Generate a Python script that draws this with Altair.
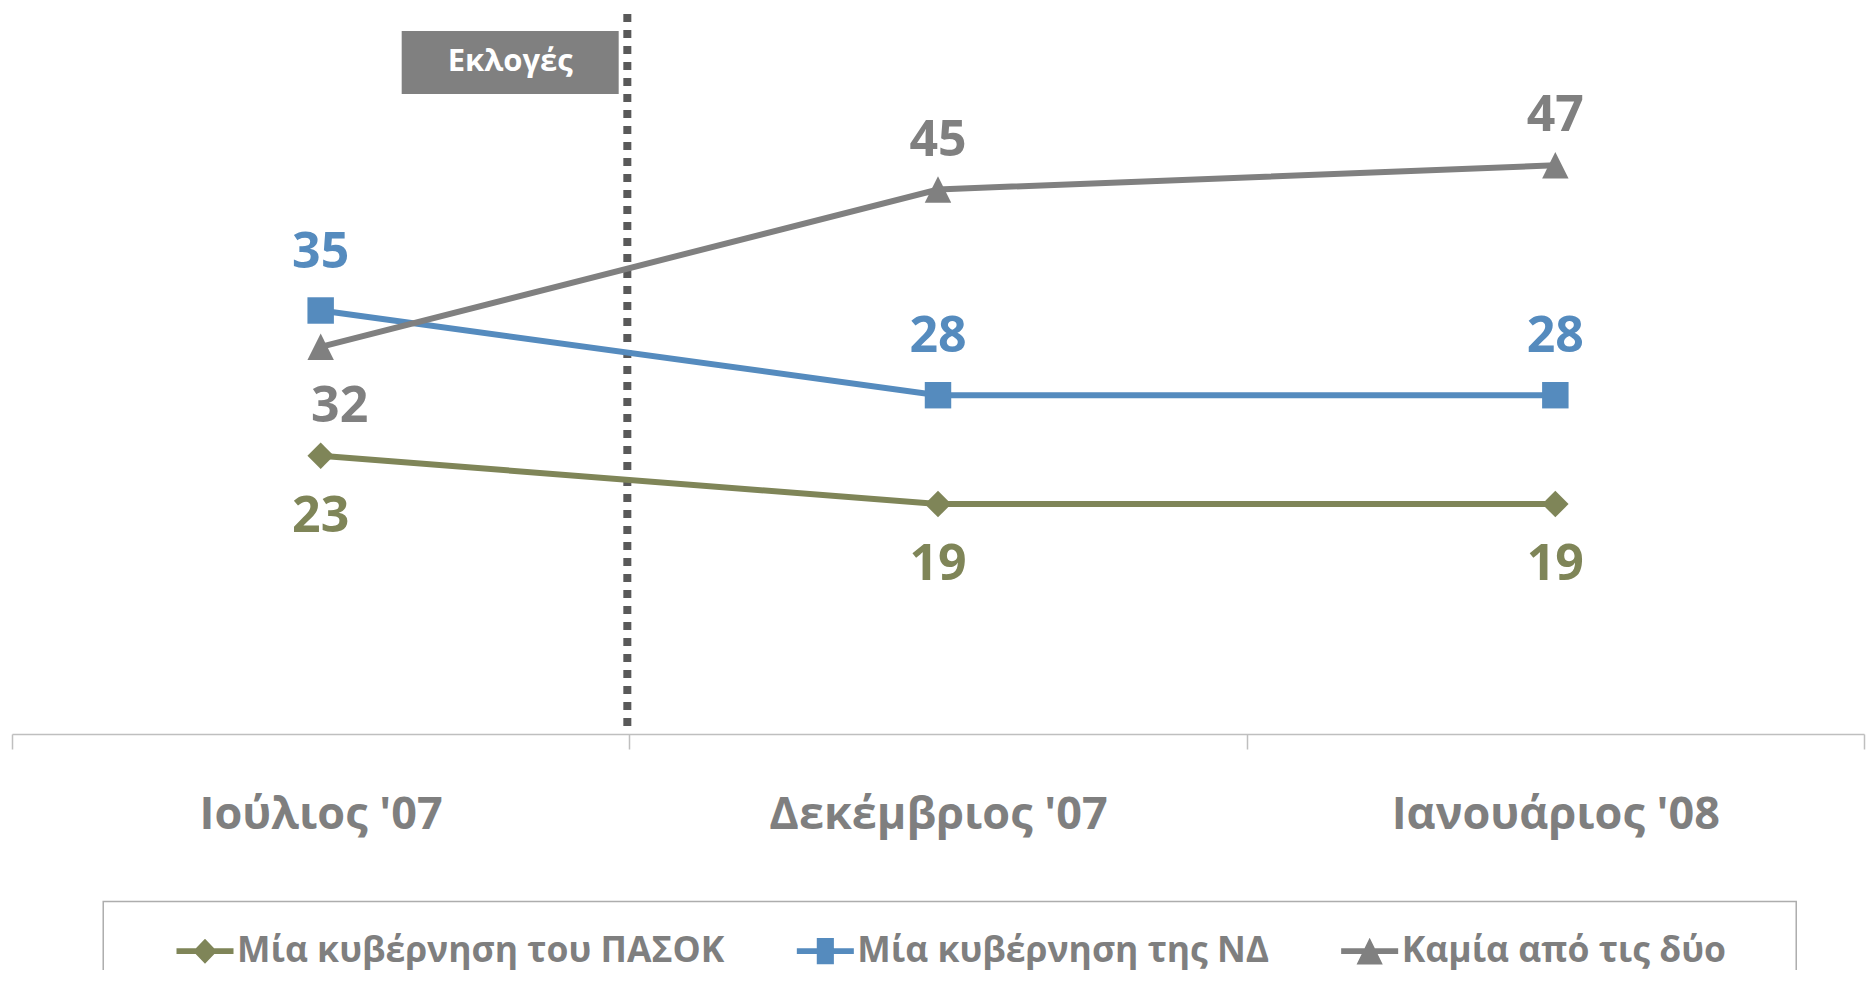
import altair as alt
import pandas as pd

# ---- data ----
months = ["Ιούλιος '07", "Δεκέμβριος '07", "Ιανουάριος '08"]
series = ["Μία κυβέρνηση του ΠΑΣΟΚ", "Μία κυβέρνηση της ΝΔ", "Καμία από τις δύο"]
pasok = [23, 19, 19]
nd = [35, 28, 28]
neither = [32, 45, 47]
election_month = "Δεκέμβριος '07"   # elections took place just before this survey
election_label = "Εκλογές"

colors = ["#7F8558", "#558BBE", "#808080"]
plot_shapes = ["diamond", "square", "M0,-1L1,1L-1,1Z"]
bar = "M-1,-0.1L1,-0.1L1,0.1L-1,0.1Z "
legend_shapes = [
    bar + "M0,-0.44L0.42,0L0,0.44L-0.42,0Z",
    bar + "M-0.3,-0.46L0.3,-0.46L0.3,0.46L-0.3,0.46Z",
    bar + "M0,-0.47L0.46,0.47L-0.46,0.47Z",
]

rows = []
for s, vals in zip(series, [pasok, nd, neither]):
    for m, v in zip(months, vals):
        rows.append({"month": m, "series": s, "value": v})
df = pd.DataFrame(rows)
# annotation placement (in y-axis units)
anno = pd.DataFrame({"month": [months[0]], "label": [election_label], "value": [55.5]})
elec = pd.DataFrame({"month": [election_month], "top": [59.5], "bottom": [0.4]})
# legend row sits below the axis (in y-axis units), one entry under each month band
legend_df = pd.DataFrame({"month": months, "series": series, "value": [-17.95] * 3})
legend_box = pd.DataFrame({"month": [months[1]], "value": [-17.9]})

FONT = "Open Sans"
W, H = 1852, 726
GRAY_TXT = "#7F7F7F"

xscale = alt.Scale(domain=months, paddingInner=0, paddingOuter=0)
yscale = alt.Scale(domain=[0, 60])
cscale = alt.Scale(domain=series, range=colors)

x_axis = alt.Axis(
    title=None, labelFont=FONT, labelFontSize=45, labelFontWeight="bold",
    labelColor=GRAY_TXT, labelAngle=0, labelBaseline="alphabetic",
    labelPadding=79, tickBand="extent", tickSize=15, tickColor="#BFBFBF",
    tickWidth=1.5, domainColor="#BFBFBF", domainWidth=1.5, grid=False,
    labelLimit=1000,
)

X = alt.X("month:N", sort=months, scale=xscale, axis=x_axis)
Y = alt.Y("value:Q", scale=yscale, axis=None)
C = alt.Color("series:N", scale=cscale, legend=None)


def Xb(band=0.5):
    return alt.X("month:N", sort=months, scale=xscale, axis=x_axis, bandPosition=band)


lines = alt.Chart(df).mark_line(strokeWidth=6).encode(
    x=X, y=Y, color=C, detail="series:N"
)

marker_layers = [
    alt.Chart(df).transform_filter(alt.datum.series == s).mark_point(
        filled=True, opacity=1, size=700, strokeWidth=0, shape=shp
    ).encode(x=X, y=Y, color=C)
    for s, shp in zip(series, plot_shapes)
]


def labels(data_filter, dy, dx=0):
    return alt.Chart(df).transform_filter(data_filter).mark_text(
        font=FONT, fontSize=50, fontWeight="bold", baseline="middle",
        align="center", dy=dy, dx=dx
    ).encode(x=X, y=Y, color=C, text=alt.Text("value:Q"))


lab_pasok = labels(alt.datum.series == series[0], 61)
lab_nd = labels(alt.datum.series == series[1], -58)
lab_none_first = labels((alt.datum.series == series[2]) & (alt.datum.month == months[0]), 60, 19)
lab_none_rest = labels((alt.datum.series == series[2]) & (alt.datum.month != months[0]), -49)

rule = alt.Chart(elec).mark_rule(
    color="#595959", strokeWidth=8, strokeDash=[8, 8], xOffset=-2
).encode(
    x=Xb(0),
    y=alt.Y("top:Q", scale=yscale, axis=None),
    y2="bottom:Q",
)

box = alt.Chart(anno).mark_point(
    filled=True, opacity=1, color="#808080", strokeWidth=0,
    shape="M-1,-0.29L1,-0.29L1,0.29L-1,0.29Z", size=47089
).encode(x=Xb(0.807), y=Y)

box_text = alt.Chart(anno).mark_text(
    font=FONT, fontSize=31, fontWeight="bold", color="white",
    baseline="middle", align="center"
).encode(x=Xb(0.807), y=Y, text="label:N")

# ---- legend (drawn from the series list) ----
leg_frame = alt.Chart(legend_box).mark_point(
    filled=False, opacity=1, stroke="#ADADAD", strokeWidth=1.5,
    shape="M-1,-0.0579L1,-0.0579L1,0.0579L-1,0.0579Z", size=1693 ** 2
).encode(x=Xb(0.519), y=Y)

entry_offsets = [193, 196, 123]   # symbol centre, px from the start of each band
legend_layers = []
for s, off in zip(series, entry_offsets):
    legend_layers.append(
        alt.Chart(legend_df).transform_filter(alt.datum.series == s).mark_point(
            filled=True, opacity=1, size=3249, strokeWidth=0, xOffset=off
        ).encode(
            x=Xb(0), y=Y, color=C,
            shape=alt.Shape("series:N", scale=alt.Scale(domain=series, range=legend_shapes), legend=None),
        )
    )
    legend_layers.append(
        alt.Chart(legend_df).transform_filter(alt.datum.series == s).mark_text(
            font=FONT, fontSize=35.5, fontWeight="bold", color=GRAY_TXT,
            align="left", baseline="middle", xOffset=off + 32
        ).encode(x=Xb(0), y=Y, text="series:N")
    )

chart = alt.layer(
    rule, box, box_text, lines, *marker_layers,
    lab_pasok, lab_nd, lab_none_first, lab_none_rest,
    leg_frame, *legend_layers,
).properties(
    width=W, height=H,
    autosize=alt.AutoSizeParams(type="none"),
    padding={"left": 4, "top": 0, "right": 2, "bottom": 236},
).configure_view(stroke=None)

chart.save("out.html", embed_options={"renderer": "svg", "actions": False})
